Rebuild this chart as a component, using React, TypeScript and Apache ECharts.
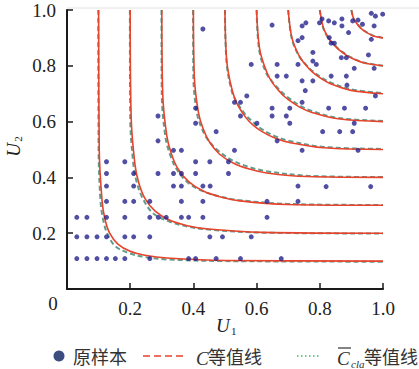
import React, { useEffect, useRef } from 'react';
import * as echarts from 'echarts';

// Original sample (U1, U2)
const samplePoints: [number, number][] = [
  [0.43, 0.932],
  [0.649, 0.946], [0.744, 0.943], [0.756, 0.954], [0.799, 0.954], [0.807, 0.968], [0.828, 0.961], [0.846, 0.954],
  [0.87, 0.968], [0.87, 0.943], [0.904, 0.961], [0.921, 0.964], [0.935, 0.949], [0.963, 0.988], [0.976, 0.978],
  [0.999, 0.985], [0.972, 0.943], [0.891, 0.919],
  [0.731, 0.89], [0.744, 0.901], [0.83, 0.901], [0.836, 0.881], [0.846, 0.881], [0.963, 0.895],
  [0.778, 0.848], [0.868, 0.829], [0.884, 0.829], [0.954, 0.839],
  [0.583, 0.805], [0.665, 0.805], [0.731, 0.805], [0.778, 0.817], [0.789, 0.805], [0.909, 0.791], [0.972, 0.791],
  [0.665, 0.763], [0.694, 0.763], [0.836, 0.763], [0.884, 0.763],
  [0.744, 0.746], [0.778, 0.746], [0.886, 0.731],
  [0.754, 0.711], [0.976, 0.692], [0.569, 0.692],
  [0.53, 0.669], [0.549, 0.669], [0.744, 0.669],
  [0.649, 0.648], [0.705, 0.648], [0.828, 0.648], [0.878, 0.648], [0.945, 0.648], [0.407, 0.648],
  [0.288, 0.62], [0.549, 0.62], [0.649, 0.62], [0.694, 0.62],
  [0.407, 0.594], [0.601, 0.594], [0.705, 0.594], [0.909, 0.594],
  [0.472, 0.564], [0.809, 0.564], [0.863, 0.564], [0.904, 0.564],
  [0.288, 0.531], [0.665, 0.531],
  [0.337, 0.497], [0.362, 0.497], [0.53, 0.497], [0.744, 0.497], [0.921, 0.497],
  [0.125, 0.456], [0.183, 0.456], [0.407, 0.456], [0.452, 0.456], [0.511, 0.456],
  [0.125, 0.414], [0.211, 0.414], [0.288, 0.414], [0.337, 0.414], [0.362, 0.414], [0.407, 0.414], [0.511, 0.414],
  [0.125, 0.369], [0.211, 0.369], [0.337, 0.369], [0.362, 0.369], [0.43, 0.369], [0.453, 0.369], [0.731, 0.369],
  [0.82, 0.367], [0.961, 0.367],
  [0.125, 0.314], [0.183, 0.314], [0.211, 0.314], [0.262, 0.314], [0.362, 0.314], [0.43, 0.314], [0.633, 0.314], [0.731, 0.314],
  [0.031, 0.257], [0.063, 0.257], [0.125, 0.257], [0.183, 0.257], [0.262, 0.257], [0.289, 0.257], [0.314, 0.257],
  [0.362, 0.257], [0.385, 0.257], [0.43, 0.257], [0.633, 0.257],
  [0.031, 0.187], [0.063, 0.187], [0.095, 0.187], [0.125, 0.187], [0.183, 0.187], [0.211, 0.187], [0.262, 0.187],
  [0.452, 0.187], [0.492, 0.187], [0.583, 0.187],
  [0.031, 0.109], [0.063, 0.109], [0.095, 0.109], [0.125, 0.109], [0.153, 0.109], [0.183, 0.109], [0.262, 0.109],
  [0.385, 0.109], [0.407, 0.109], [0.472, 0.109], [0.549, 0.109], [0.678, 0.109],
];

// C contour lines (levels 0.1 ... 0.9)
const cLevel01: [number, number][] = [[0.1, 1], [0.102, 0.501], [0.111, 0.316], [0.12, 0.251], [0.135, 0.2], [0.161, 0.161], [0.2, 0.135], [0.251, 0.12], [0.316, 0.111], [0.501, 0.102], [1, 0.1]];
const cLevel02: [number, number][] = [[0.2, 1], [0.203, 0.617], [0.215, 0.447], [0.227, 0.381], [0.247, 0.324], [0.279, 0.279], [0.324, 0.247], [0.381, 0.227], [0.447, 0.215], [0.617, 0.203], [1, 0.2]];
const cLevel03: [number, number][] = [[0.3, 1], [0.303, 0.697], [0.316, 0.548], [0.33, 0.486], [0.351, 0.431], [0.385, 0.385], [0.431, 0.351], [0.486, 0.33], [0.548, 0.316], [0.697, 0.303], [1, 0.3]];
const cLevel04: [number, number][] = [[0.4, 1], [0.403, 0.76], [0.416, 0.632], [0.43, 0.577], [0.451, 0.527], [0.483, 0.483], [0.527, 0.451], [0.577, 0.43], [0.632, 0.416], [0.76, 0.403], [1, 0.4]];
const cLevel05: [number, number][] = [[0.5, 1], [0.506, 0.812], [0.524, 0.707], [0.54, 0.66], [0.565, 0.616], [0.588, 0.588], [0.616, 0.565], [0.66, 0.54], [0.707, 0.524], [0.812, 0.506], [1, 0.5]];
const cLevel06: [number, number][] = [[0.6, 1], [0.61, 0.858], [0.633, 0.775], [0.652, 0.736], [0.679, 0.7], [0.689, 0.689], [0.7, 0.679], [0.736, 0.652], [0.775, 0.633], [0.858, 0.61], [1, 0.6]];
const cLevel07: [number, number][] = [[0.7, 1], [0.712, 0.899], [0.734, 0.837], [0.752, 0.807], [0.777, 0.777], [0.807, 0.752], [0.837, 0.734], [0.899, 0.712], [1, 0.7]];
const cLevel08: [number, number][] = [[0.8, 1], [0.812, 0.935], [0.831, 0.894], [0.845, 0.875], [0.859, 0.859], [0.875, 0.845], [0.894, 0.831], [0.935, 0.812], [1, 0.8]];
const cLevel09: [number, number][] = [[0.9, 1], [0.907, 0.969], [0.919, 0.949], [0.926, 0.939], [0.932, 0.932], [0.939, 0.926], [0.949, 0.919], [0.969, 0.907], [1, 0.9]];

// C_cla contour lines (levels 0.1 ... 0.9)
const claLevel01: [number, number][] = [[0.099, 1], [0.1, 0.501], [0.106, 0.316], [0.114, 0.251], [0.127, 0.2], [0.153, 0.153], [0.2, 0.127], [0.251, 0.114], [0.316, 0.106], [0.501, 0.1], [1, 0.098]];
const claLevel02: [number, number][] = [[0.199, 1], [0.2, 0.617], [0.21, 0.447], [0.221, 0.381], [0.24, 0.324], [0.272, 0.272], [0.324, 0.242], [0.381, 0.224], [0.447, 0.213], [0.617, 0.202], [1, 0.199]];
const claLevel03: [number, number][] = [[0.299, 1], [0.3, 0.697], [0.311, 0.548], [0.325, 0.486], [0.346, 0.431], [0.382, 0.382], [0.431, 0.35], [0.486, 0.331], [0.548, 0.318], [0.697, 0.305], [1, 0.301]];
const claLevel04: [number, number][] = [[0.399, 1], [0.4, 0.76], [0.411, 0.632], [0.426, 0.577], [0.449, 0.53], [0.485, 0.49], [0.527, 0.459], [0.577, 0.437], [0.632, 0.422], [0.76, 0.406], [1, 0.401]];
const claLevel05: [number, number][] = [[0.5, 1], [0.505, 0.812], [0.522, 0.707], [0.54, 0.665], [0.567, 0.622], [0.592, 0.595], [0.616, 0.573], [0.66, 0.547], [0.707, 0.53], [0.812, 0.509], [1, 0.502]];
const claLevel06: [number, number][] = [[0.6, 1], [0.608, 0.858], [0.63, 0.775], [0.652, 0.74], [0.68, 0.705], [0.691, 0.694], [0.7, 0.686], [0.736, 0.658], [0.775, 0.638], [0.858, 0.613], [1, 0.602]];
const claLevel07: [number, number][] = [[0.7, 1], [0.711, 0.899], [0.733, 0.837], [0.752, 0.81], [0.777, 0.781], [0.807, 0.757], [0.837, 0.739], [0.899, 0.716], [1, 0.702]];
const claLevel08: [number, number][] = [[0.8, 1], [0.811, 0.935], [0.83, 0.894], [0.845, 0.877], [0.859, 0.861], [0.875, 0.847], [0.894, 0.833], [0.935, 0.813], [1, 0.8]];
const claLevel09: [number, number][] = [[0.9, 1], [0.907, 0.969], [0.919, 0.95], [0.926, 0.94], [0.932, 0.933], [0.939, 0.927], [0.949, 0.92], [0.969, 0.908], [1, 0.9]];

const cContours = [cLevel01, cLevel02, cLevel03, cLevel04, cLevel05, cLevel06, cLevel07, cLevel08, cLevel09];
const claContours = [claLevel01, claLevel02, claLevel03, claLevel04, claLevel05, claLevel06, claLevel07, claLevel08, claLevel09];

const LEGEND_SAMPLE = '原样本';
const LEGEND_LEVEL = '等值线';

const SERIF = '"Liberation Serif", "Times New Roman", serif';
const CJK = '"Noto Sans CJK SC", sans-serif';

export default function App() {
  const ref = useRef<HTMLDivElement>(null);

  useEffect(() => {
    if (!ref.current) return;
    const chart = echarts.init(ref.current, undefined, { renderer: 'svg' });

    const axisCommon = {
      type: 'value' as const,
      min: 0,
      max: 1,
      interval: 0.2,
      axisLine: { show: true, lineStyle: { color: '#1a1a1a', width: 2 } },
      axisTick: { show: true, inside: true, length: 6, lineStyle: { color: '#1a1a1a', width: 1.5 } },
      splitLine: { show: false },
    };

    const series: any[] = [];
    claContours.forEach((d) => {
      series.push({
        type: 'line',
        data: d,
        smooth: 0.35,
        symbol: 'none',
        silent: true,
        z: 2,
        lineStyle: { color: '#5e9c8c', width: 2, type: [5, 3] },
      });
    });
    cContours.forEach((d) => {
      series.push({
        type: 'line',
        data: d,
        smooth: 0.35,
        symbol: 'none',
        silent: true,
        z: 3,
        lineStyle: { color: '#e8432c', width: 1.6 },
      });
    });
    series.push({
      type: 'scatter',
      data: samplePoints,
      symbolSize: 5,
      silent: true,
      z: 4,
      itemStyle: { color: '#24238c' },
    });

    const legendY = 356;
    chart.setOption({
      animation: false,
      backgroundColor: '#ffffff',
      grid: { left: 67, right: 36, top: 10, bottom: 80 },
      xAxis: {
        ...axisCommon,
        axisLabel: {
          margin: 10,
          fontFamily: SERIF,
          fontSize: 19,
          color: '#222',
          formatter: (v: number) => (v === 0 ? '' : v.toFixed(1)),
        },
      },
      yAxis: {
        ...axisCommon,
        axisLabel: {
          margin: 11,
          fontFamily: SERIF,
          fontSize: 19,
          color: '#222',
          formatter: (v: number) => (v === 0 ? '' : v.toFixed(1)),
        },
      },
      series,
      graphic: [
        { type: 'line', shape: { x1: 67, y1: 8, x2: 419, y2: 8 }, style: { stroke: '#e2e2e2', lineWidth: 1 }, silent: true },
        { type: 'text', x: 53, y: 303, style: { text: '0', font: `19px ${SERIF}`, fill: '#222', align: 'center', verticalAlign: 'middle' } },
        // U1 axis name
        { type: 'text', x: 216, y: 325, style: { text: 'U', font: `italic 19px ${SERIF}`, fill: '#222', align: 'left', verticalAlign: 'middle' } },
        { type: 'text', x: 231, y: 331, style: { text: '1', font: `11px ${SERIF}`, fill: '#222', align: 'left', verticalAlign: 'middle' } },
        // U2 axis name (rotated)
        {
          type: 'group',
          x: 13,
          y: 150,
          rotation: Math.PI / 2,
          children: [
            { type: 'text', x: 0, y: 0, style: { text: 'U', font: `italic 19px ${SERIF}`, fill: '#222', align: 'center', verticalAlign: 'middle' } },
            { type: 'text', x: 11, y: 5, style: { text: '2', font: `11px ${SERIF}`, fill: '#222', align: 'center', verticalAlign: 'middle' } },
          ],
        },
        // Legend: sample
        { type: 'circle', shape: { cx: 59, cy: legendY, r: 5.5 }, style: { fill: '#3d4e7e' } },
        { type: 'text', x: 73, y: legendY, style: { text: LEGEND_SAMPLE, font: `18px ${CJK}`, fill: '#333', align: 'left', verticalAlign: 'middle' } },
        // Legend: C
        { type: 'line', shape: { x1: 143, y1: legendY, x2: 184, y2: legendY }, style: { stroke: '#e8402a', lineWidth: 1.5, lineDash: [7, 4] } },
        { type: 'text', x: 196, y: legendY + 2, style: { text: 'C', font: `italic 19px ${SERIF}`, fill: '#333', align: 'left', verticalAlign: 'middle' } },
        { type: 'text', x: 208, y: legendY, style: { text: LEGEND_LEVEL, font: `18px ${CJK}`, fill: '#333', align: 'left', verticalAlign: 'middle' } },
        // Legend: C_cla
        { type: 'line', shape: { x1: 297, y1: legendY, x2: 321, y2: legendY }, style: { stroke: '#3cb86a', lineWidth: 1.5, lineDash: [1.5, 2.5] } },
        { type: 'text', x: 337, y: legendY + 2, style: { text: 'C', font: `italic 19px ${SERIF}`, fill: '#333', align: 'left', verticalAlign: 'middle' } },
        { type: 'line', shape: { x1: 338, y1: 348, x2: 351, y2: 348 }, style: { stroke: '#333', lineWidth: 1.2 } },
        { type: 'text', x: 351, y: 364, style: { text: 'cla', font: `italic 11px ${SERIF}`, fill: '#333', align: 'left', verticalAlign: 'middle' } },
        { type: 'text', x: 364, y: legendY, style: { text: LEGEND_LEVEL, font: `18px ${CJK}`, fill: '#333', align: 'left', verticalAlign: 'middle' } },
      ],
    });

    return () => chart.dispose();
  }, []);

  return (
    <div
      ref={ref}
      style={{ position: 'fixed', left: 0, top: 0, width: 419, height: 369 }}
    />
  );
}
